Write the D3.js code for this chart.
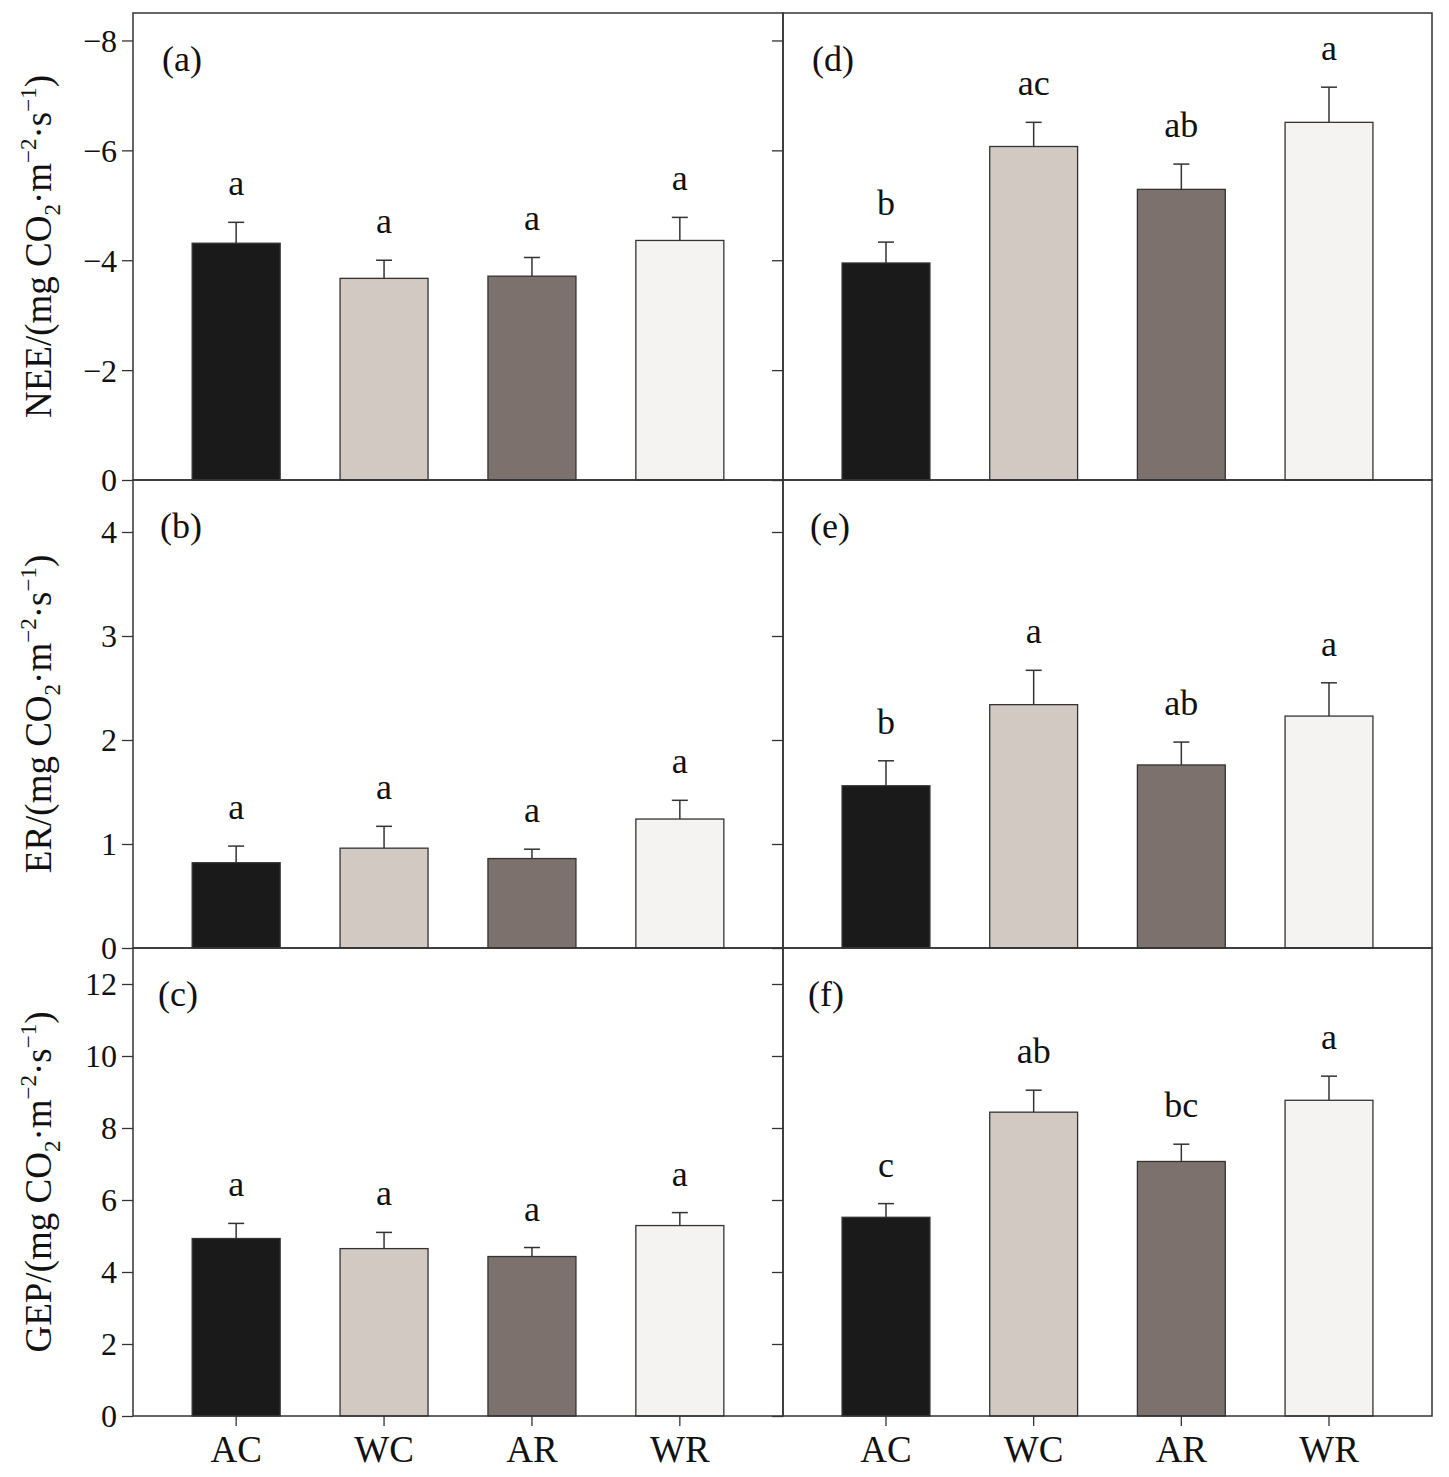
<!DOCTYPE html>
<html><head><meta charset="utf-8">
<script src="https://cdn.jsdelivr.net/npm/d3@7"></script>
<style>
body{margin:0;background:#fff;}
text{font-family:"Liberation Serif","Times New Roman",serif;fill:#111;}
</style></head>
<body><svg id="chart" width="1449" height="1477"></svg>
<script>
const categories = ["AC","WC","AR","WR"];
const barColors = ["#1b1a1a","#d2c9c3","#7c716c","#f5f3f2"];

// (a) NEE, left column
const neeA = [-4.31,-3.67,-3.71,-4.36];
const neeAErr = [0.38,0.33,0.34,0.42];
const neeALetters = ["a","a","a","a"];
// (d) NEE, right column
const neeD = [-3.95,-6.07,-5.29,-6.51];
const neeDErr = [0.38,0.44,0.46,0.64];
const neeDLetters = ["b","ac","ab","a"];
// (b) ER, left
const erB = [0.82,0.96,0.86,1.24];
const erBErr = [0.16,0.21,0.09,0.18];
const erBLetters = ["a","a","a","a"];
// (e) ER, right
const erE = [1.56,2.34,1.76,2.23];
const erEErr = [0.24,0.33,0.22,0.32];
const erELetters = ["b","a","ab","a"];
// (c) GEP, left
const gepC = [4.93,4.65,4.43,5.29];
const gepCErr = [0.42,0.45,0.25,0.36];
const gepCLetters = ["a","a","a","a"];
// (f) GEP, right
const gepF = [5.52,8.44,7.07,8.77];
const gepFErr = [0.38,0.61,0.48,0.67];
const gepFLetters = ["c","ab","bc","a"];

const neeTicks = [0,-2,-4,-6,-8];
const erTicks = [0,1,2,3,4];
const gepTicks = [0,2,4,6,8,10,12];
const panelTags = ["(a)","(b)","(c)","(d)","(e)","(f)"];
const titleNEE = ["NEE/(mg CO","2","·m","−2","·s","−1",")"];
const titleER = ["ER/(mg CO","2","·m","−2","·s","−1",")"];
const titleGEP = ["GEP/(mg CO","2","·m","−2","·s","−1",")"];

const svg = d3.select("#chart");
const colX = [[133,783],[783,1432]];
const rowY = [[13,480],[480,948],[948,1416]];

const rows = [
  {domain:[0,-8.5], ticks:neeTicks, title:titleNEE,
   data:[[neeA,neeAErr,neeALetters],[neeD,neeDErr,neeDLetters]]},
  {domain:[0,4.5], ticks:erTicks, title:titleER,
   data:[[erB,erBErr,erBLetters],[erE,erEErr,erELetters]]},
  {domain:[0,13], ticks:gepTicks, title:titleGEP,
   data:[[gepC,gepCErr,gepCLetters],[gepF,gepFErr,gepFLetters]]}
];
const tagOffsets = [[29,58],[27,58],[25,58]];
const fmt = d3.format("d");

rows.forEach((row, ri) => {
  const [top, bottom] = rowY[ri];
  const y = d3.scaleLinear().domain(row.domain).range([bottom, top]);
  row.data.forEach((pd, ci) => {
    const [left, right] = colX[ci];
    const [vals, errs, letters] = pd;
    const x = d3.scaleBand().domain(categories).range([left, right]).paddingInner(0.405).paddingOuter(0.4);
    const g = svg.append("g");
    g.selectAll("rect.bar").data(vals).join("rect")
      .attr("x",(d,i)=>x(categories[i]))
      .attr("width",x.bandwidth())
      .attr("y",d=>Math.min(y(d),y(0)))
      .attr("height",d=>Math.abs(y(d)-y(0)))
      .attr("fill",(d,i)=>barColors[i])
      .attr("stroke","#333").attr("stroke-width",1.3);
    vals.forEach((v,i)=>{
      const cx = x(categories[i]) + x.bandwidth()/2;
      const s = v < 0 ? -1 : 1;
      const tipV = v + s*errs[i];
      g.append("line").attr("x1",cx).attr("x2",cx).attr("y1",y(v)).attr("y2",y(tipV))
        .attr("stroke","#333").attr("stroke-width",1.5);
      g.append("line").attr("x1",cx-8).attr("x2",cx+8).attr("y1",y(tipV)).attr("y2",y(tipV))
        .attr("stroke","#333").attr("stroke-width",1.5);
      g.append("text").attr("x",cx).attr("y",y(tipV)-27).attr("text-anchor","middle")
        .attr("font-size",36).text(letters[i]);
    });
    const ax = d3.axisLeft(y).tickValues(row.ticks).tickSize(11).tickPadding(5)
      .tickFormat(ci === 1 ? "" : fmt);
    const ag = svg.append("g").attr("transform",`translate(${left},0)`).call(ax);
    ag.select(".domain").remove();
    ag.selectAll("line").attr("stroke","#333").attr("stroke-width",1.3);
    ag.selectAll("text").attr("font-size",32).attr("font-family","Liberation Serif").attr("fill","#111").attr("dy","0.34em");
    if (ri === 2) {
      const xa = d3.axisBottom(x).tickSize(10).tickPadding(8);
      const xg = svg.append("g").attr("transform",`translate(0,${bottom})`).call(xa);
      xg.select(".domain").remove();
      xg.selectAll("line").attr("stroke","#333").attr("stroke-width",1.3);
      xg.selectAll("text").attr("font-size",37).attr("font-family","Liberation Serif").attr("fill","#111").attr("dy","0.76em");
    }
    svg.append("rect").attr("x",left).attr("y",top).attr("width",right-left).attr("height",bottom-top)
      .attr("fill","none").attr("stroke","#333").attr("stroke-width",1.5);
    svg.append("text").attr("x",left+tagOffsets[ri][0]).attr("y",top+tagOffsets[ri][1])
      .attr("font-size",36).text(panelTags[ri + ci*3]);
  });
  const t = svg.append("text").attr("text-anchor","middle").attr("font-size",37)
    .attr("transform",`translate(51,${(top+bottom)/2}) rotate(-90)`);
  const dys = [0, 9, -9, -15, 15, -15, 15];
  row.title.forEach((s,k)=>{
    const sp = t.append("tspan").attr("dy",dys[k]).text(s);
    if (k===1 || k===3 || k===5) sp.attr("font-size",23);
  });
});
</script></body></html>
